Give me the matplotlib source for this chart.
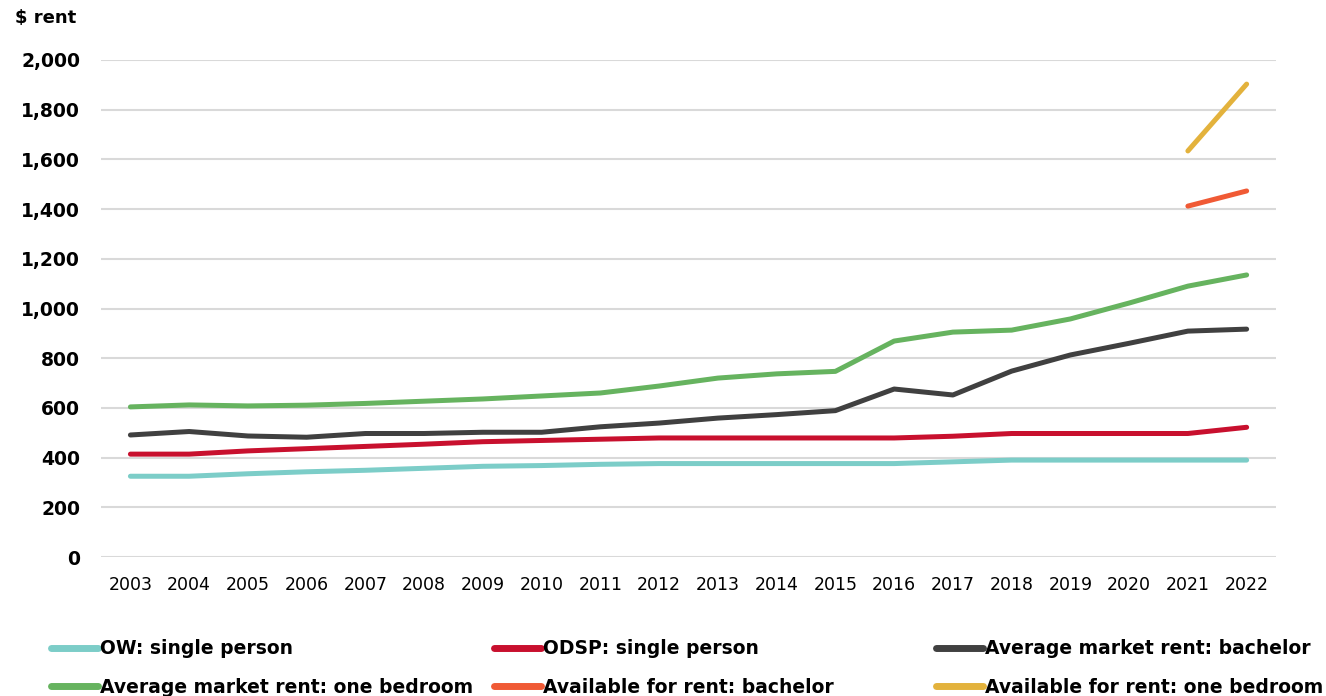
import matplotlib.pyplot as plt
from matplotlib.lines import Line2D
import numpy as np

plt.rcParams['font.family'] = ['DejaVu Sans']

years = np.arange(2003, 2023)

ow_single = [325, 325, 335, 343, 349, 357, 365, 368, 373, 376,
             376, 376, 376, 376, 383, 390, 390, 390, 390, 390]
odsp_single = [414, 414, 427, 436, 445, 454, 464, 469, 474, 479,
               479, 479, 479, 479, 486, 497, 497, 497, 497, 522]
avg_bachelor = [491, 505, 487, 482, 497, 497, 502, 502, 524, 539,
                559, 573, 589, 676, 652, 748, 813, 860, 909, 917]
avg_one_bed = [604, 612, 608, 611, 618, 627, 636, 648, 660, 688,
               720, 737, 747, 869, 905, 913, 958, 1022, 1090, 1135]
avail_years = [2021, 2022]
avail_bachelor = [1412, 1473]
avail_one_bed = [1634, 1903]

labels = ["OW: single person", "ODSP: single person", "Average market rent: bachelor",
          "Average market rent: one bedroom", "Available for rent: bachelor",
          "Available for rent: one bedroom"]
colors = ["#7ccdc8", "#c8102e", "#404040", "#66b35f", "#f05a35", "#e3b23c"]

fig = plt.figure(figsize=(13.26, 6.96), dpi=100)
ax = fig.add_axes([0.0762, 0.1997, 0.8861, 0.7141])

series = [(years, ow_single), (years, odsp_single), (years, avg_bachelor),
          (years, avg_one_bed), (avail_years, avail_bachelor), (avail_years, avail_one_bed)]
for (x, y), c in zip(series, colors):
    ax.plot(x, y, color=c, lw=3.6, solid_capstyle='round', solid_joinstyle='round')

ax.set_xlim(2002.5, 2022.5)
ax.set_ylim(0, 2000)
ax.set_yticks(np.arange(0, 2001, 200))
ax.set_yticklabels([f"{v:,}" for v in range(0, 2001, 200)], fontweight='bold', fontsize=13.5)
ax.set_xticks(years)
ax.set_xticklabels([str(y) for y in years], fontsize=12.5)
ax.tick_params(length=0, pad=14)
ax.tick_params(axis='y', pad=15)
ax.grid(axis='y', color='#d9d9d9', lw=1.5)
ax.set_axisbelow(True)
for s in ax.spines.values():
    s.set_visible(False)

fig.text(0.011, 0.974, "$ rent", fontweight='bold', fontsize=13, va='center')

handles = [Line2D([0], [0], color=c, lw=5, solid_capstyle='round') for c in colors]
col_x = [0.026, 0.360, 0.693]
for i in range(3):
    fig.legend([handles[i], handles[i + 3]], [labels[i], labels[i + 3]],
               loc='upper left', bbox_to_anchor=(col_x[i], 0.106),
               frameon=False, handlelength=2.5, handletextpad=0.12,
               labelspacing=1.05, prop={'weight': 'bold', 'size': 13.5})

fig.savefig("out.png", dpi=100)
